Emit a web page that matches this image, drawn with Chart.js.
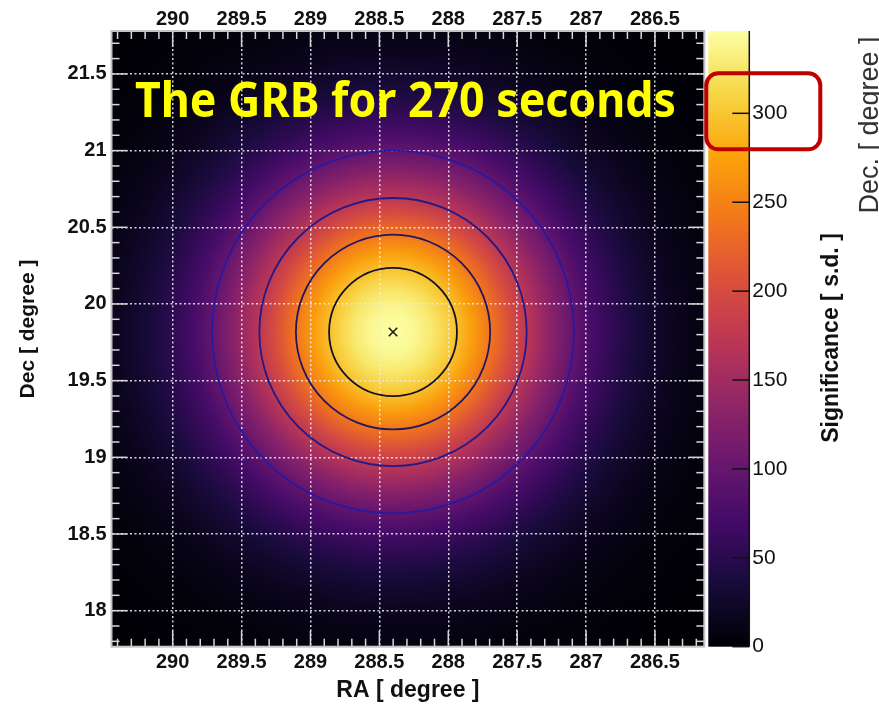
<!DOCTYPE html>
<html><head><meta charset="utf-8">
<script src="https://cdn.jsdelivr.net/npm/chart.js@4.4.1/dist/chart.umd.min.js"></script>
<style>html,body{margin:0;padding:0;background:#fff;overflow:hidden}canvas{display:block}</style>
</head><body>
<canvas id="c" width="879" height="706"></canvas>
<script>
// ---- data ----
const raTicks = [290, 289.5, 289, 288.5, 288, 287.5, 287, 286.5];
const decTicks = [18, 18.5, 19, 19.5, 20, 20.5, 21, 21.5];
const sigTicks = [0, 50, 100, 150, 200, 250, 300];
const raRange = [286.142, 290.444];
const decRange = [17.765, 21.78];
const sigRange = [0, 346.3];
const sourceRA = [288.401];
const sourceDec = [19.817];
// radial significance profile (radius in Dec degrees)
const profileRadiusDeg = [0, 0.13, 0.26, 0.39, 0.52, 0.65, 0.78, 0.91, 1.04, 1.17, 1.30, 1.44, 1.57, 1.70, 1.83, 1.96, 2.15, 2.35, 2.61, 2.94];
const profileSignificance = [346, 341, 326, 302, 271, 236, 199, 163, 130, 100, 74, 54, 38, 26, 17, 11, 5, 2.4, 0.7, 0.1];
const contourLevels = [295, 240, 175, 100];
const contourRadiusDeg = [0.418, 0.635, 0.874, 1.183];
const raPerDecDeg = 1.11;
const titleText = 'The GRB for 270 seconds';

// ---- styles ----
const contourColors = ['#15102a', '#221662', '#25188a', '#2719a0'];
const infernoStops = ['#000004','#160b39','#420a68','#6a176e','#932667','#bc3754','#dd513a','#f37819','#fca50a','#f6d746','#fcffa4'];
const FONT = '"Liberation Sans", Arial, Helvetica, sans-serif';

function hex2rgb(h){return [parseInt(h.substr(1,2),16),parseInt(h.substr(3,2),16),parseInt(h.substr(5,2),16)];}
const infRGB = infernoStops.map(hex2rgb);
function inferno(t){
  t = Math.max(0, Math.min(1, t));
  const f = t * (infRGB.length - 1);
  const i = Math.min(infRGB.length - 2, Math.floor(f));
  const u = f - i, a = infRGB[i], b = infRGB[i+1];
  return 'rgb(' + [0,1,2].map(k => Math.round(a[k] + (b[k]-a[k])*u)).join(',') + ')';
}

const setTicks = arr => (s) => { s.ticks = arr.map(v => ({value: v})); };
const fmt = v => String(+Number(v).toFixed(2));

const heatmapPlugin = {
  id: 'heatmap',
  beforeDraw(chart) {
    const {ctx, chartArea: a, scales: {x, y, z}} = chart;
    ctx.save();
    ctx.beginPath(); ctx.rect(a.left, a.top, a.right - a.left, a.bottom - a.top); ctx.clip();
    ctx.fillStyle = inferno(0); ctx.fillRect(a.left, a.top, a.right - a.left, a.bottom - a.top);
    const cx = x.getPixelForValue(sourceRA[0]), cy = y.getPixelForValue(sourceDec[0]);
    const pxRA = Math.abs(x.getPixelForValue(sourceRA[0] + 1) - cx);
    const pxDec = Math.abs(y.getPixelForValue(sourceDec[0] + 1) - cy);
    const rxUnit = pxRA * raPerDecDeg, ryUnit = pxDec;
    const rMax = profileRadiusDeg[profileRadiusDeg.length - 1];
    ctx.translate(cx, cy); ctx.scale(1, ryUnit / rxUnit);
    const g = ctx.createRadialGradient(0, 0, 0, 0, 0, rMax * rxUnit);
    profileRadiusDeg.forEach((r, i) => g.addColorStop(r / rMax, inferno(profileSignificance[i] / sigRange[1])));
    ctx.fillStyle = g; ctx.fillRect(-3000, -3000, 6000, 6000);
    ctx.restore();
    // colour bar
    const top = z.getPixelForValue(sigRange[1]), bot = z.getPixelForValue(sigRange[0]);
    const lg = ctx.createLinearGradient(0, bot, 0, top);
    infernoStops.forEach((c, i) => lg.addColorStop(i / (infernoStops.length - 1), c));
    ctx.fillStyle = lg;
    ctx.fillRect(z.left + 4, top, 41, bot - top);
  },
  beforeDatasetsDraw(chart) {
    const {ctx, chartArea: a, scales: {x, y}} = chart;
    const cx = x.getPixelForValue(sourceRA[0]), cy = y.getPixelForValue(sourceDec[0]);
    const pxRA = Math.abs(x.getPixelForValue(sourceRA[0] + 1) - cx);
    const pxDec = Math.abs(y.getPixelForValue(sourceDec[0] + 1) - cy);
    ctx.save();
    ctx.beginPath(); ctx.rect(a.left, a.top, a.right - a.left, a.bottom - a.top); ctx.clip();
    contourRadiusDeg.forEach((r, i) => {
      ctx.beginPath();
      ctx.ellipse(cx, cy, r * raPerDecDeg * pxRA, r * pxDec, 0, 0, Math.PI * 2);
      ctx.strokeStyle = contourColors[i]; ctx.lineWidth = 1.8; ctx.stroke();
    });
    ctx.restore();
  },
  afterDraw(chart) {
    const {ctx, chartArea: a, scales: {x, y, z}} = chart;
    ctx.save();
    // inward ROOT style ticks
    ctx.strokeStyle = '#d8d8d8'; ctx.lineWidth = 1.5;
    const line = (x1, y1, x2, y2) => { ctx.beginPath(); ctx.moveTo(x1, y1); ctx.lineTo(x2, y2); ctx.stroke(); };
    for (let k = Math.ceil(raRange[0] * 10); k <= Math.floor(raRange[1] * 10); k++) {
      const px = x.getPixelForValue(k / 10), L = (k % 5 === 0) ? 16 : 8;
      line(px, a.top, px, a.top + L); line(px, a.bottom, px, a.bottom - L);
    }
    for (let k = Math.ceil(decRange[0] * 10); k <= Math.floor(decRange[1] * 10); k++) {
      const py = y.getPixelForValue(k / 10), L = (k % 5 === 0) ? 16 : 8;
      line(a.left, py, a.left + L, py); line(a.right, py, a.right - L, py);
    }
    ctx.strokeStyle = '#c4c4c4'; ctx.lineWidth = 2;
    ctx.strokeRect(a.left, a.top, a.right - a.left, a.bottom - a.top);
    // colour bar axis
    const top = z.getPixelForValue(sigRange[1]), bot = z.getPixelForValue(sigRange[0]);
    const axX = z.left + 45;
    ctx.strokeStyle = '#111'; ctx.lineWidth = 1.5;
    line(axX, top, axX, bot);
    sigTicks.forEach(v => { const py = z.getPixelForValue(v); line(axX - 17, py, axX, py); });
    // title
    ctx.fillStyle = '#ffff00';
    ctx.font = 'bold 49px "Noto Sans", sans-serif';
    ctx.textBaseline = 'alphabetic'; ctx.textAlign = 'left';
    const w = ctx.measureText(titleText).width;
    ctx.save(); ctx.translate(135, 117); ctx.scale(541 / w, 1); ctx.fillText(titleText, 0, 0); ctx.restore();
    // axis titles
    ctx.fillStyle = '#111';
    ctx.font = 'bold 23px ' + FONT; ctx.textAlign = 'center'; ctx.textBaseline = 'middle';
    ctx.fillText('RA [ degree ]', (a.left + a.right) / 2, 691);
    ctx.save(); ctx.translate(832, 338); ctx.rotate(-Math.PI / 2); ctx.fillText('Significance [ s.d. ]', 0, 0); ctx.restore();
    ctx.font = 'bold 21px ' + FONT;
    ctx.save(); ctx.translate(28, 329); ctx.rotate(-Math.PI / 2); ctx.fillText('Dec [ degree ]', 0, 0); ctx.restore();
    ctx.fillStyle = '#333';
    ctx.font = '27px ' + FONT; ctx.textBaseline = 'alphabetic';
    ctx.save(); ctx.translate(878, 125); ctx.rotate(-Math.PI / 2); ctx.fillText('Dec. [ degree ]', 0, 0); ctx.restore();
    // red highlight box around the 300 label
    const p300 = z.getPixelForValue(300);
    ctx.strokeStyle = '#c00000'; ctx.lineWidth = 4;
    ctx.beginPath(); ctx.roundRect(z.left + 2, p300 - 40, 114, 76, 12); ctx.stroke();
    ctx.restore();
  }
};

const gridCommon = {color: 'rgba(235,235,235,0.9)', lineWidth: 1.5, drawTicks: false};
new Chart(document.getElementById('c'), {
  type: 'scatter',
  data: {
    datasets: [{
      data: sourceRA.map((r, i) => ({x: r, y: sourceDec[i]})),
      pointStyle: 'crossRot', pointRadius: 6, borderColor: '#1a1a1a', borderWidth: 1.6,
      backgroundColor: 'transparent', xAxisID: 'x', yAxisID: 'y'
    }]
  },
  options: {
    responsive: false, animation: false, devicePixelRatio: 1,
    layout: {padding: 0},
    plugins: {legend: {display: false}, tooltip: {enabled: false}, title: {display: false}},
    events: [],
    scales: {
      x: {type: 'linear', position: 'bottom', reverse: true, min: raRange[0], max: raRange[1],
          afterBuildTicks: setTicks(raTicks), afterFit: s => { s.height = 59.3; },
          ticks: {font: {family: FONT, size: 20, weight: 'bold'}, color: '#111', padding: 4, maxRotation: 0, autoSkip: false, callback: fmt},
          grid: gridCommon, border: {display: false, dash: [2, 2.5]}},
      x2: {type: 'linear', position: 'top', reverse: true, min: raRange[0], max: raRange[1],
          afterBuildTicks: setTicks(raTicks), afterFit: s => { s.height = 31; },
          ticks: {font: {family: FONT, size: 20, weight: 'bold'}, color: '#111', padding: 0, maxRotation: 0, autoSkip: false, callback: fmt},
          grid: {display: false, drawTicks: false}, border: {display: false}},
      y: {type: 'linear', position: 'left', min: decRange[0], max: decRange[1],
          afterBuildTicks: setTicks(decTicks), afterFit: s => { s.width = 111.5; },
          ticks: {font: {family: FONT, size: 20, weight: 'bold'}, color: '#111', padding: 5, autoSkip: false, callback: fmt},
          grid: gridCommon, border: {display: false, dash: [2, 2.5]}},
      z: {type: 'linear', position: 'right', min: sigRange[0], max: sigRange[1],
          afterBuildTicks: setTicks(sigTicks), afterFit: s => { s.width = 174.7; },
          ticks: {font: {family: FONT, size: 21}, color: '#111', padding: 4, autoSkip: false, callback: fmt},
          grid: {display: false, drawTicks: true, tickLength: 44}, border: {display: false}}
    }
  },
  plugins: [heatmapPlugin]
});
</script>
</body></html>
